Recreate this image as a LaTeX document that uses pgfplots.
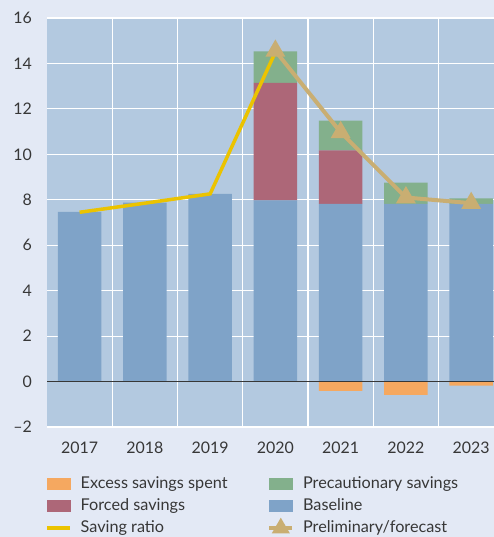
\documentclass[border=0pt]{standalone}
\usepackage{pgfplots}
\pgfplotsset{compat=1.18}
\usepackage{fontspec}
\setmainfont{Lato}
\definecolor{bgc}{RGB}{227,233,245}
\definecolor{plotc}{RGB}{179,201,224}
\definecolor{basec}{RGB}{127,163,200}
\definecolor{forcedc}{RGB}{173,103,120}
\definecolor{precc}{RGB}{131,176,140}
\definecolor{excessc}{RGB}{245,168,96}
\definecolor{yellowc}{RGB}{235,195,0}
\definecolor{tanc}{RGB}{201,174,114}
\definecolor{tickc}{RGB}{55,55,55}
\pgfplotsset{
  common/.style={
    at={(47bp,110bp)}, anchor=south west,
    scale only axis, width=447bp, height=409bp,
    xmin=-0.5, xmax=6.35, ymin=-2, ymax=16,
    clip=false,
  }
}
\begin{document}
\begin{tikzpicture}
\fill[bgc] (0,0) rectangle (494bp,537bp);
\useasboundingbox (0,0) rectangle (494bp,537bp);
% bars axis
\begin{axis}[common,
  axis background/.style={fill=plotc},
  axis line style={draw=none},
  major tick length=0pt, minor tick length=0pt,
  xtick={0,...,6}, xticklabels={2017,2018,2019,2020,2021,2022,2023},
  minor xtick={0.5,1.5,2.5,3.5,4.5,5.5},
  xminorgrids, ymajorgrids,
  grid style={white, line width=1.2bp},
  minor grid style={white, line width=1.2bp},
  ytick={-2,0,2,4,6,8,10,12,14,16},
  yticklabels={\textendash2,0,2,4,6,8,10,12,14,16},
  tick label style={font=\fontsize{16}{18}\selectfont, text=tickc},
  xticklabel style={yshift=-11bp},
  yticklabel style={xshift=-11.5bp},
  ybar stacked, bar width=43.6bp,
]
\addplot[fill=basec, draw=none] coordinates {(0,7.47) (1,7.87) (2,8.26) (3,7.97) (4,7.82) (5,7.82) (6,7.82)};
\addplot[fill=forcedc, draw=none] coordinates {(0,0) (1,0) (2,0) (3,5.17) (4,2.35) (5,0) (6,0)};
\addplot[fill=precc, draw=none] coordinates {(0,0) (1,0) (2,0) (3,1.39) (4,1.31) (5,0.94) (6,0.24)};
\end{axis}
% lines axis
\begin{axis}[common, hide axis,
  legend columns=2,
  legend style={at={(0,0)}, anchor=north west, xshift=-5bp, yshift=-46bp, draw=none, fill=none,
    font=\fontsize{16.3}{18}\selectfont, text=tickc,
    nodes={inner sep=1bp, text height=12bp, text depth=4bp},
    row sep=4bp,
    /tikz/every odd column/.append style={column sep=8bp},
    /tikz/every even column/.append style={column sep=39bp}},
  legend cell align=left,
]
\addplot[ybar, bar width=43.6bp, bar shift=0pt, fill=excessc, draw=none, forget plot] coordinates {(4,-0.41) (5,-0.59) (6,-0.18)};
\draw[tickc, line width=1.2bp] (axis cs:-0.5,0) -- (axis cs:6.35,0);
\addplot[yellowc, line width=3.5bp, forget plot] coordinates {(0,7.45) (1,7.85) (2,8.26) (3,14.5)};
\addplot[tanc, line width=4bp, mark=triangle*, mark size=7.5bp, forget plot] coordinates {(3,14.55) (4,10.97) (5,8.1) (6,7.85)};
\addlegendimage{legend image code/.code={\fill[excessc] (0bp,-5bp) rectangle (23bp,6bp);}}
\addlegendentry{Excess savings spent}
\addlegendimage{legend image code/.code={\fill[precc] (0bp,-5bp) rectangle (23bp,6bp);}}
\addlegendentry{Precautionary savings}
\addlegendimage{legend image code/.code={\fill[forcedc] (0bp,-5bp) rectangle (23bp,6bp);}}
\addlegendentry{Forced savings}
\addlegendimage{legend image code/.code={\fill[basec] (0bp,-5bp) rectangle (23bp,6bp);}}
\addlegendentry{Baseline}
\addlegendimage{yellowc, line width=3.5bp, legend image code/.code={\draw (0bp,0bp) -- (23bp,0bp);}}
\addlegendentry{Saving ratio}
\addlegendimage{tanc, line width=3.5bp, mark=triangle*, mark size=7bp, legend image code/.code={\draw[mark repeat=2,mark phase=2] plot coordinates {(0bp,0bp) (11.5bp,0bp) (23bp,0bp)};}}
\addlegendentry{Preliminary/forecast}
\end{axis}
\end{tikzpicture}
\end{document}
